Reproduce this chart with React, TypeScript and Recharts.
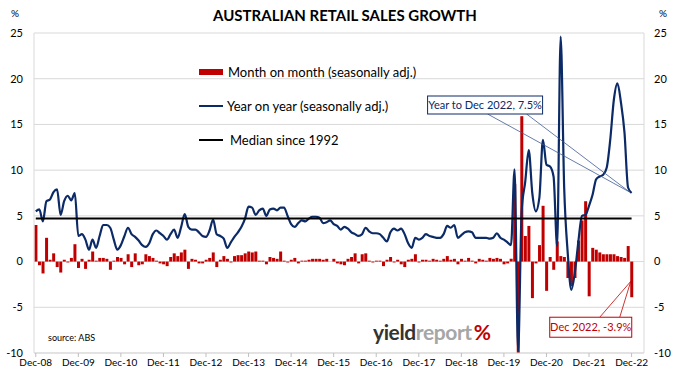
import React from 'react';
import { ComposedChart, Bar, Line, XAxis, YAxis, CartesianGrid, Legend, LabelList, Rectangle } from 'recharts';

const FONT = 'Lato, "Liberation Sans", sans-serif';
const RED = '#c00000';
const NAVY = '#0b2a66';

const yearTicks = [
  'Dec-08', 'Dec-09', 'Dec-10', 'Dec-11', 'Dec-12', 'Dec-13', 'Dec-14', 'Dec-15',
  'Dec-16', 'Dec-17', 'Dec-18', 'Dec-19', 'Dec-20', 'Dec-21', 'Dec-22',
];
const yTicks = [-10, -5, 0, 5, 10, 15, 20, 25];

// month on month, % (seasonally adj.), Dec-08 .. Dec-22
const momChange = [
  4.0, -0.4, -1.3, 2.6, 0.2, 0.9, -0.6, -1.2, 0.2, -0.1, 0.4, 1.9,
  -0.7, 0.3, -0.8, 0.2, 1.1, 0.1, 0.4, 0.4, 0.3, -0.9, 0.1, 0.5,
  0.4, -0.3, 0.8, -0.6, 0.9, -0.4, -0.3, 0.8, 0.6, 0.4, 0.1, -0.2,
  -0.3, -0.5, 0.5, 0.9, 0.6, 1.0, 1.3, -0.8, 0.3, 0.2, -0.2, -0.2,
  0.2, 0.4, 1.0, -0.6, 0.2, 0.6, 0.3, -0.1, 0.6, 0.7, 0.7, 0.9,
  1.1, 1.0, 1.1, 0.1, 0.1, -0.3, 0.5, 0.4, 0.3, 1.1, 0.1, -0.1,
  0.2, 0.4, -0.2, 0.1, 0.1, 0.2, 0.3, 0.3, 0.3, 0.2, 0.3, 0.0,
  0.3, -0.2, -0.3, -0.4, 0.3, 0.5, 0.9, -0.2, 0.8, 0.9, 0.1, -0.1,
  0.1, 0.1, -0.5, 0.2, 0.5, -0.1, 0.2, -0.3, -0.6, 0.2, 0.3, 0.8,
  -0.1, 0.2, 0.2, 0.1, 0.3, 0.2, 0.1, 0.3, 0.6, 0.2, 0.3, -0.3,
  0.3, 0.1, 0.4, 0.1, -0.2, 0.3, 0.2, 0.1, 0.4, 0.3, 0.4, 0.3,
  -0.3, -0.2, 0.3, 8.5, -10.0, 15.9, 2.8, 3.9, -4.0, -0.2, 1.8, 6.1,
  -3.2, 0.5, -0.9, 2.2, 0.6, 0.5, -1.8, -2.7, -1.8, 2.3, 4.5, 6.6,
  -3.8, 1.5, 1.3, 1.0, 0.8, 0.8, 0.8, 0.8, 0.6, 0.5, 0.4, 1.7,
  -3.9,
];

// year on year, % (seasonally adj.)
const yoyChange = [
  5.5, 5.7, 4.4, 6.6, 6.8, 7.6, 7.9, 5.1, 6.6, 7.2, 6.7, 7.5,
  2.8, 3.0, 2.4, 1.3, 2.4, 1.5, 2.8, 4.0, 4.0, 3.7, 2.4, 1.3,
  1.8, 2.8, 3.7, 3.0, 2.7, 2.3, 1.8, 1.6, 2.0, 3.0, 3.4, 3.1,
  2.8, 2.4, 3.0, 3.5, 2.6, 3.8, 5.2, 3.8, 3.5, 3.5, 3.2, 2.8,
  2.7, 3.4, 4.6, 3.0, 2.8, 2.5, 1.5, 2.1, 2.7, 3.2, 3.8, 4.7,
  6.0, 5.9, 5.1, 5.6, 5.8, 5.0, 5.7, 5.8, 5.6, 5.9, 5.9, 5.0,
  4.1, 3.8, 4.2, 4.5, 4.4, 4.7, 4.9, 4.9, 4.8, 4.2, 4.3, 4.5,
  4.1, 3.9, 3.5, 3.8, 3.6, 3.2, 3.0, 2.8, 3.0, 3.7, 3.3, 3.1,
  3.1, 3.0, 2.6, 2.2, 3.2, 3.6, 3.4, 3.6, 3.0, 2.0, 1.5, 2.6,
  2.4, 2.6, 3.0, 2.8, 2.7, 2.6, 2.6, 3.0, 3.9, 3.7, 4.0, 2.6,
  2.9, 3.2, 3.3, 3.2, 2.6, 2.6, 2.6, 2.6, 2.5, 2.6, 3.1, 2.6,
  2.4, 2.1, 1.8, 10.1, -9.8, 5.5, 8.7, 12.2, 7.5, 5.5, 7.0, 13.3,
  10.6, 10.4, 9.3, 1.7, 24.6, 8.0, 0.9, -3.1, -1.2, 2.2, 5.0, 5.1,
  6.1, 7.3, 9.0, 9.3, 9.5, 10.3, 13.4, 17.7, 19.5, 17.4, 14.1, 8.1,
  7.5,
];

const medianSince1992 = 4.7;
const emptyMonthsAfter = 3;

const data = [
  ...momChange.map((m, i) => ({ idx: i, mom: m, yoy: yoyChange[i], median: medianSince1992 })),
  ...Array.from({ length: emptyMonthsAfter }, (_, k) => ({ idx: momChange.length + k, mom: null, yoy: null, median: null })),
];
const lastIdx = momChange.length - 1;

const YoyCallout = (props: any) => {
  const { x, y, index } = props;
  if (index !== lastIdx) return null;
  const bx = x - 204;
  const by = y - 97;
  return (
    <g>
      <line x1={x - 144} y1={by + 18} x2={x - 2} y2={y - 1} stroke="#3d5a94" strokeWidth={0.8} />
      <line x1={x - 105} y1={by + 18} x2={x - 2} y2={y - 1} stroke="#3d5a94" strokeWidth={0.8} />
      <rect x={bx} y={by} width={115} height={18} fill="#fff" stroke={NAVY} strokeWidth={1} />
      <text x={bx + 57.5} y={by + 13} textAnchor="middle" fontSize={11} fill={NAVY} fontFamily={FONT}>
        Year to Dec 2022, 7.5%
      </text>
    </g>
  );
};

// bar shape; the last month also carries its callout
const MomBar = (props: any) => {
  const { x, y, width, height, index } = props;
  const rect = <Rectangle x={x} y={y} width={width} height={height} fill={RED} />;
  if (index !== lastIdx) return rect;
  const cx = x + width / 2;
  const top = Math.min(y, y + height);
  const bottom = Math.max(y, y + height);
  const mid = (top + bottom) / 2 + 2;
  const by = bottom + 20;
  return (
    <g>
      {rect}
      <line x1={cx - 32} y1={by} x2={cx - 1} y2={mid} stroke={RED} strokeWidth={0.8} />
      <line x1={cx - 12} y1={by} x2={cx - 1} y2={mid} stroke={RED} strokeWidth={0.8} />
      <rect x={cx - 82} y={by} width={82} height={20} fill="#fff" stroke={RED} strokeWidth={1} />
      <text x={cx - 41} y={by + 14} textAnchor="middle" fontSize={11} fill={RED} fontFamily={FONT}>
        Dec 2022, -3.9%
      </text>
    </g>
  );
};

const renderLegend = () => (
  <div style={{ fontFamily: FONT, fontSize: 13, color: '#000' }}>
    <div style={{ display: 'flex', alignItems: 'center', height: 34 }}>
      <span style={{ display: 'inline-block', width: 24, height: 6, background: RED }} />
      <span style={{ marginLeft: 5 }}>Month on month (seasonally adj.)</span>
    </div>
    <div style={{ display: 'flex', alignItems: 'center', height: 34 }}>
      <span style={{ display: 'inline-block', width: 24, height: 2, background: NAVY }} />
      <span style={{ marginLeft: 4 }}>Year on year (seasonally adj.)</span>
    </div>
    <div style={{ display: 'flex', alignItems: 'center', height: 34 }}>
      <span style={{ display: 'inline-block', width: 24, height: 2, background: '#000' }} />
      <span style={{ marginLeft: 7 }}>Median since 1992</span>
    </div>
  </div>
);

const App = () => {
  return (
    <div style={{ position: 'absolute', left: 0, top: 0, width: 690, height: 378, background: '#fff', fontFamily: FONT }}>
      <ComposedChart width={690} height={378} data={data} margin={{ top: 33, right: 0, bottom: 0, left: 0 }} barCategoryGap="12%">
        <CartesianGrid yAxisId="left" vertical={false} stroke="#d9d9d9" />
        <XAxis
          dataKey="idx"
          interval={11}
          height={25}
          tickFormatter={(v: number) => yearTicks[v / 12] ?? ''}
          tick={{ fontSize: 10, fill: '#000', fontFamily: FONT }}
          axisLine={{ stroke: '#d9d9d9' }}
          tickLine={{ stroke: '#bfbfbf' }}
          tickSize={4}
          tickMargin={2}
        />
        <YAxis
          yAxisId="left"
          domain={[-10, 25]}
          ticks={yTicks}
          width={34}
          tick={{ fontSize: 11, fill: '#000', fontFamily: FONT }}
          axisLine={{ stroke: '#d9d9d9' }}
          tickLine={false}
          tickSize={6}
          tickMargin={5}
        />
        <YAxis
          yAxisId="right"
          orientation="right"
          domain={[-10, 25]}
          ticks={yTicks}
          width={46}
          tick={{ fontSize: 11, fill: '#000', fontFamily: FONT }}
          axisLine={{ stroke: '#d9d9d9' }}
          tickLine={false}
          tickSize={6}
          tickMargin={4}
        />
        <Legend
          layout="vertical"
          align="center"
          verticalAlign="middle"
          content={renderLegend}
          wrapperStyle={{ left: 199, top: 55, width: 250 }}
        />
        <Bar yAxisId="left" dataKey="mom" name="Month on month (seasonally adj.)" fill={RED} shape={MomBar} isAnimationActive={false} />
        <Line yAxisId="left" type="monotone" dataKey="yoy" name="Year on year (seasonally adj.)" stroke={NAVY} strokeWidth={2.2} dot={false} isAnimationActive={false}>
          <LabelList dataKey="yoy" content={YoyCallout} />
        </Line>
        <Line yAxisId="right" type="linear" dataKey="median" name="Median since 1992" stroke="#000" strokeWidth={2} dot={false} isAnimationActive={false} />
      </ComposedChart>

      <div style={{ position: 'absolute', left: 0, width: 690, top: 6, textAlign: 'center', fontWeight: 700, fontSize: 15 }}>
        AUSTRALIAN RETAIL SALES GROWTH
      </div>
      <div style={{ position: 'absolute', left: 11, top: 7, fontSize: 10 }}>%</div>
      <div style={{ position: 'absolute', left: 659, top: 7, fontSize: 10 }}>%</div>
      <div style={{ position: 'absolute', left: 48, top: 332, fontSize: 9 }}>source: ABS</div>
      <div style={{ position: 'absolute', left: 373, top: 319, fontSize: 21, fontWeight: 700, letterSpacing: -0.4 }}>
        <span style={{ color: '#333' }}>yield</span>
        <span style={{ color: '#a6a6a6' }}>report</span>
        <span style={{ color: RED, marginLeft: 2 }}>%</span>
      </div>
    </div>
  );
};

export default App;
